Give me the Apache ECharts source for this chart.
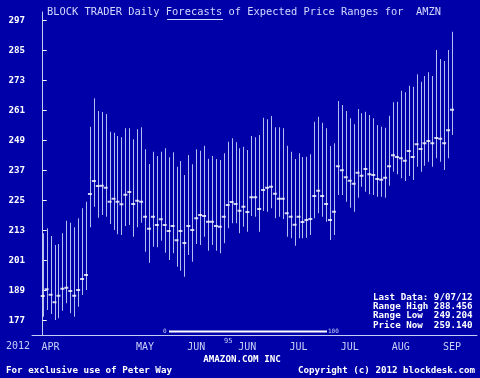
<!DOCTYPE html>
<html>
<head>
<meta charset="utf-8">
<script src="https://cdn.jsdelivr.net/npm/echarts@6/dist/echarts.min.js"></script>
<style>
  html, body { margin: 0; padding: 0; background: #0000a8; }
  #chart { width: 480px; height: 378px; }
</style>
</head>
<body>
<div id="chart"></div>
<script>
// forecast range top / bottom and price on forecast day, one per trading day
const rangeHigh = [
  211.9, 213.9, 210.8, 207.2, 207.6, 211.9, 216.9, 216.1, 214.3, 217.9, 221.9, 224.5, 254.5, 265.9,
  260.8, 260.4, 259.6, 252.5, 252.1, 250.8, 250.3, 253.9, 253.9, 249.5, 253.5, 254.3, 245.5,
  239.6, 244.5, 242.8, 244.5, 245.9, 242.3, 244.3, 238.5, 240.8, 235.2, 243.2, 239.5, 245.5, 244.9,
  246.9, 241.7, 242.8, 241.6, 241.2, 243.9, 248.5, 249.9, 248.3, 245.9, 246.5, 245.2, 250.8, 250.3,
  251.2, 258.1, 257.5, 258.8, 254.3, 254.3, 253.9, 246.9, 244.5, 241.6, 243.9, 242.4, 242.5, 243.5,
  256.5, 258.5, 256.1, 253.9, 246.8, 247.9, 264.8, 263.2, 260.8, 257.9, 255.5, 261.6, 259.9, 260.5,
  259.2, 257.9, 255.2, 254.5, 254.1, 258.9, 264.3, 264.5, 268.9, 268.3, 270.9, 270.5, 275.5, 272.5,
  274.8, 276.3, 274.8, 285.2, 281.6, 280.8, 285.2, 292.5
];
const rangeLow = [
  178.5, 181.2, 179.6, 177.2, 177.9, 180.9, 183.9, 179.9, 178.5, 182.5, 187.2, 189.2, 214.3, 222.5,
  218.1, 219.2, 218.5, 215.6, 213.2, 211.5, 211.2, 214.8, 215.2, 210.5, 214.3, 216.1, 204.5,
  200.1, 206.5, 206.3, 208.9, 204.1, 201.2, 203.9, 198.5, 196.9, 194.5, 203.2, 200.5, 207.6, 207.2,
  210.5, 204.9, 207.2, 204.9, 203.9, 207.9, 213.9, 215.9, 215.9, 211.9, 214.5, 212.5, 218.8, 218.5,
  212.5, 220.8, 220.5, 221.9, 217.9, 218.5, 217.6, 210.5, 209.9, 206.9, 209.9, 209.9, 210.1, 211.2,
  217.9, 219.9, 218.5, 216.5, 209.2, 211.2, 227.2, 227.2, 224.5, 222.1, 220.5, 226.1, 230.5, 228.5,
  227.5, 227.2, 226.5, 226.5, 226.1, 230.9, 236.5, 235.5, 233.9, 232.8, 234.8, 233.2, 238.5, 236.5,
  238.9, 240.5, 238.5, 241.9, 240.5, 237.2, 241.9, 251.2
];
const priceAtForecast = [
  186.8, 189.5, 187.3, 184.3, 186.9, 189.7, 190.1, 188.8, 186.9, 189.2, 193.6, 195.2, 227.6, 232.8,
  230.8, 230.9, 230.1, 224.5, 225.7, 224.5, 223.5, 227.3, 228.4, 223.6, 224.9, 224.5, 218.5,
  213.7, 218.5, 215.2, 217.5, 215.2, 212.8, 214.8, 209.1, 212.8, 208.0, 214.8, 213.2, 217.9, 219.2,
  218.8, 216.5, 216.5, 214.8, 214.5, 218.5, 223.2, 224.4, 223.6, 220.9, 222.5, 220.4, 226.3, 226.3,
  221.6, 229.2, 230.1, 230.5, 227.7, 225.7, 225.7, 219.9, 218.5, 215.3, 218.5, 216.4, 217.2, 217.6,
  226.8, 228.9, 226.8, 223.6, 217.2, 220.5, 238.7, 237.1, 234.3, 232.9, 231.7, 236.1, 234.9, 237.6,
  235.5, 235.2, 233.6, 233.3, 234.1, 238.7, 243.1, 242.4, 241.9, 240.9, 244.8, 242.4, 247.5, 245.6,
  247.9, 248.8, 247.9, 250.0, 249.7, 247.9, 253.1, 261.3
];

const yTicks = [177, 189, 201, 213, 225, 237, 249, 261, 273, 285, 297];
const monthIdx = [2, 26, 39, 52, 65, 78, 91, 104];
const monthLabels = ['APR', 'MAY', 'JUN', 'JUN', 'JUL', 'JUL', 'AUG', 'SEP'];
const infoLines = [
  'Last Data: 9/07/12',
  'Range High 288.456',
  'Range Low  249.204',
  'Price Now  259.140'
];

const bg = '#0000a8';
const barColor = '#b4bcf0';
const axisColor = '#c4ccf4';
const mono = 'DejaVu Sans Mono';

const rangeData = rangeHigh.map((h, i) => [i, rangeLow[i], h]);
const dotData = priceAtForecast.map((p, i) => [i, p]);

const chart = echarts.init(document.getElementById('chart'));

const boldText = (x, y, text, align) => ({
  type: 'text',
  x, y,
  style: {
    text, fill: '#ffffff', font: 'bold 9.2px "' + mono + '"',
    textAlign: align || 'left', textVerticalAlign: 'middle'
  }
});

chart.setOption({
  backgroundColor: bg,
  animation: false,
  title: {
    text: 'BLOCK TRADER Daily Forecasts of Expected Price Ranges for  AMZN',
    left: 47,
    top: 7,
    padding: 0,
    textStyle: { color: '#d4d8ff', fontFamily: mono, fontSize: 10.4, fontWeight: 'normal' }
  },
  grid: { left: 32, right: 3, top: 12, bottom: 43 },
  xAxis: {
    type: 'value',
    min: -2.72,
    max: 110.35,
    splitLine: { show: false },
    axisLine: { lineStyle: { color: axisColor, width: 1 } },
    axisTick: { show: false },
    axisLabel: {
      customValues: monthIdx,
      formatter: (v) => monthLabels[monthIdx.indexOf(v)] || '',
      color: '#c8d0f8',
      fontFamily: mono,
      fontSize: 10,
      margin: 7
    }
  },
  yAxis: {
    type: 'value',
    min: 171.2,
    max: 300.4,
    splitLine: { show: false },
    axisLine: { show: true, lineStyle: { color: axisColor, width: 1 } },
    axisTick: { show: true, inside: true, length: 4, customValues: yTicks, lineStyle: { color: '#ffffff' } },
    axisLabel: {
      customValues: yTicks,
      color: '#ffffff',
      fontFamily: mono,
      fontWeight: 'bold',
      fontSize: 9.2,
      margin: 7
    }
  },
  series: [
    {
      type: 'custom',
      data: rangeData,
      renderItem: (params, api) => {
        const lo = api.coord([api.value(0), api.value(1)]);
        const hi = api.coord([api.value(0), api.value(2)]);
        const x = Math.round(lo[0]) + 0.5;
        return {
          type: 'line',
          shape: { x1: x, y1: lo[1], x2: x, y2: hi[1] },
          style: { stroke: barColor, lineWidth: 1 }
        };
      }
    },
    {
      type: 'scatter',
      data: dotData,
      symbol: 'rect',
      symbolSize: [4, 2],
      itemStyle: { color: '#ffffff' },
      z: 5
    }
  ],
  graphic: [
    // underline under "Forecasts"
    { type: 'line', shape: { x1: 167, y1: 19.5, x2: 223, y2: 19.5 }, style: { stroke: '#d4d8ff', lineWidth: 1 } },
    {
      type: 'text', x: 6, y: 346,
      style: { text: '2012', fill: '#c8d0f8', font: '10px "' + mono + '"', textVerticalAlign: 'middle' }
    },
    // percentile slider
    { type: 'line', shape: { x1: 169, y1: 331.5, x2: 327, y2: 331.5 }, style: { stroke: '#ffffff', lineWidth: 2 } },
    {
      type: 'text', x: 163, y: 331,
      style: { text: '0', fill: '#c8d0f8', font: '6px "' + mono + '"', textVerticalAlign: 'middle' }
    },
    {
      type: 'text', x: 328, y: 331,
      style: { text: '100', fill: '#c8d0f8', font: '6px "' + mono + '"', textVerticalAlign: 'middle' }
    },
    {
      type: 'text', x: 224, y: 341,
      style: { text: '95', fill: '#c8d0f8', font: '7px "' + mono + '"', textVerticalAlign: 'middle' }
    },
    boldText(242, 359.5, 'AMAZON.COM INC', 'center'),
    boldText(6, 371, 'For exclusive use of Peter Way'),
    boldText(475, 371, 'Copyright (c) 2012 blockdesk.com', 'right'),
    ...infoLines.map((t, i) => boldText(373, 297.5 + i * 9.3, t))
  ]
});
</script>
</body>
</html>
